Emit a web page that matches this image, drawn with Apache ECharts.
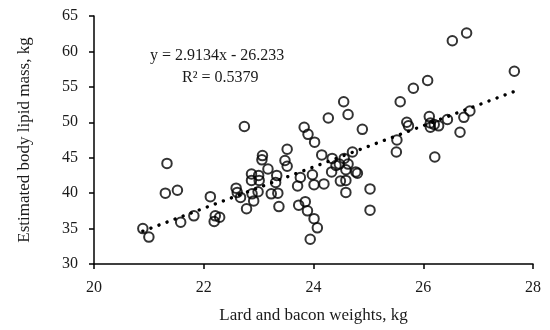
<!DOCTYPE html>
<html>
<head>
<meta charset="utf-8">
<script src="https://cdn.jsdelivr.net/npm/echarts@6/dist/echarts.min.js"></script>
<style>
html,body{margin:0;padding:0;background:#fff;}
#chart{width:550px;height:330px;}
</style>
</head>
<body>
<div id="chart"></div>
<script>
// Lard and bacon weights, kg (x)
const lardBacon = [
  20.89, 21.00, 21.33, 21.30, 21.52, 21.58, 21.82, 22.12, 22.21, 22.19,
  22.29, 22.59, 22.61, 22.67, 22.74, 22.78, 22.87, 22.87, 22.88, 22.91,
  23.00, 23.01, 22.99, 23.07, 23.06, 23.17, 23.23, 23.33, 23.31, 23.35,
  23.37, 23.48, 23.52, 23.52, 23.71, 23.76, 23.73, 23.83, 23.90, 23.85,
  23.89, 24.02, 23.98, 24.01, 24.01, 24.07, 23.94, 24.15, 24.19, 24.27,
  24.33, 24.34, 24.41, 24.47, 24.49, 24.55, 24.56, 24.59, 24.59, 24.59,
  24.63, 24.63, 24.71, 24.77, 24.80, 24.89, 25.03, 25.03, 25.52, 25.51,
  25.58, 25.70, 25.73, 25.82, 26.08, 26.11, 26.13, 26.13, 26.20, 26.28,
  26.21, 26.44, 26.53, 26.67, 26.74, 26.79, 26.85, 27.66
];
// Estimated body lipid mass, kg (y)
const lipidMass = [
  35.0, 33.8, 44.2, 40.0, 40.4, 35.9, 36.8, 39.5, 36.8, 36.0,
  36.6, 40.7, 40.1, 39.4, 49.4, 37.8, 42.7, 41.8, 39.9, 38.9,
  42.5, 41.8, 40.2, 45.3, 44.7, 43.4, 39.9, 42.5, 41.5, 40.0,
  38.1, 44.6, 46.2, 43.8, 41.0, 42.2, 38.3, 49.3, 48.3, 38.8,
  37.5, 47.2, 42.6, 41.2, 36.4, 35.1, 33.5, 45.4, 41.3, 50.6,
  43.0, 44.9, 43.9, 44.1, 41.7, 52.9, 44.9, 43.3, 41.8, 40.1,
  44.1, 51.1, 45.8, 43.0, 42.8, 49.0, 40.6, 37.6, 47.5, 45.8,
  52.9, 50.0, 49.5, 54.8, 55.9, 50.8, 49.9, 49.3, 49.7, 49.5,
  45.1, 50.4, 61.5, 48.6, 50.7, 62.6, 51.6, 57.2
];
const slope = 2.9134;
const intercept = -26.233;
const equationText = 'y = 2.9134x - 26.233';
const r2Text = 'R² = 0.5379';
const xTicks = [20, 22, 24, 26, 28];
const yTicks = [30, 35, 40, 45, 50, 55, 60, 65];

const points = lardBacon.map((x, i) => [x, lipidMass[i]]);
const xMin = Math.min(...lardBacon), xMax = Math.max(...lardBacon);
const trend = [[xMin, slope * xMin + intercept], [xMax, slope * xMax + intercept]];

const FONT = '"Liberation Serif", "DejaVu Serif", serif';
const chart = echarts.init(document.getElementById('chart'), null, {renderer: 'canvas'});
chart.setOption({
  animation: false,
  backgroundColor: '#fff',
  grid: {left: 94, right: 17, top: 16, bottom: 66},
  xAxis: {
    type: 'value', min: xTicks[0], max: xTicks[xTicks.length - 1], interval: 2,
    name: 'Lard and bacon weights, kg', nameLocation: 'middle', nameGap: 43,
    nameTextStyle: {fontFamily: FONT, fontSize: 17, color: '#1a1a1a'},
    axisLine: {lineStyle: {color: '#000', width: 1.5}},
    axisTick: {show: true, inside: false, length: 5, lineStyle: {color: '#000', width: 1.5}},
    axisLabel: {fontFamily: FONT, fontSize: 16, color: '#1a1a1a', margin: 16},
    splitLine: {show: false}
  },
  yAxis: {
    type: 'value', min: yTicks[0], max: yTicks[yTicks.length - 1], interval: 5,
    name: 'Estimated body lipid mass, kg', nameLocation: 'middle', nameGap: 61,
    nameTextStyle: {fontFamily: FONT, fontSize: 17, color: '#1a1a1a'},
    axisLine: {show: true, lineStyle: {color: '#000', width: 1.5}},
    axisTick: {show: true, inside: false, length: 5, lineStyle: {color: '#000', width: 1.5}},
    axisLabel: {fontFamily: FONT, fontSize: 16, color: '#1a1a1a', margin: 16},
    splitLine: {show: false}
  },
  series: [
    {
      type: 'line', data: trend, symbol: 'none', silent: true, z: 1,
      lineStyle: {color: '#000', width: 3.4, type: [0.1, 8.5], cap: 'round'}
    },
    {
      type: 'scatter', data: points, symbol: 'circle', symbolSize: 9.5, z: 2,
      itemStyle: {color: 'rgba(255,255,255,0)', borderColor: '#000', borderWidth: 2}
    }
  ],
  graphic: [
    {type: 'text', left: 150, top: 48, style: {text: equationText, font: '16px ' + FONT, fill: '#1a1a1a'}},
    {type: 'text', left: 182, top: 70, style: {text: r2Text, font: '16px ' + FONT, fill: '#1a1a1a'}}
  ]
});
</script>
</body>
</html>
